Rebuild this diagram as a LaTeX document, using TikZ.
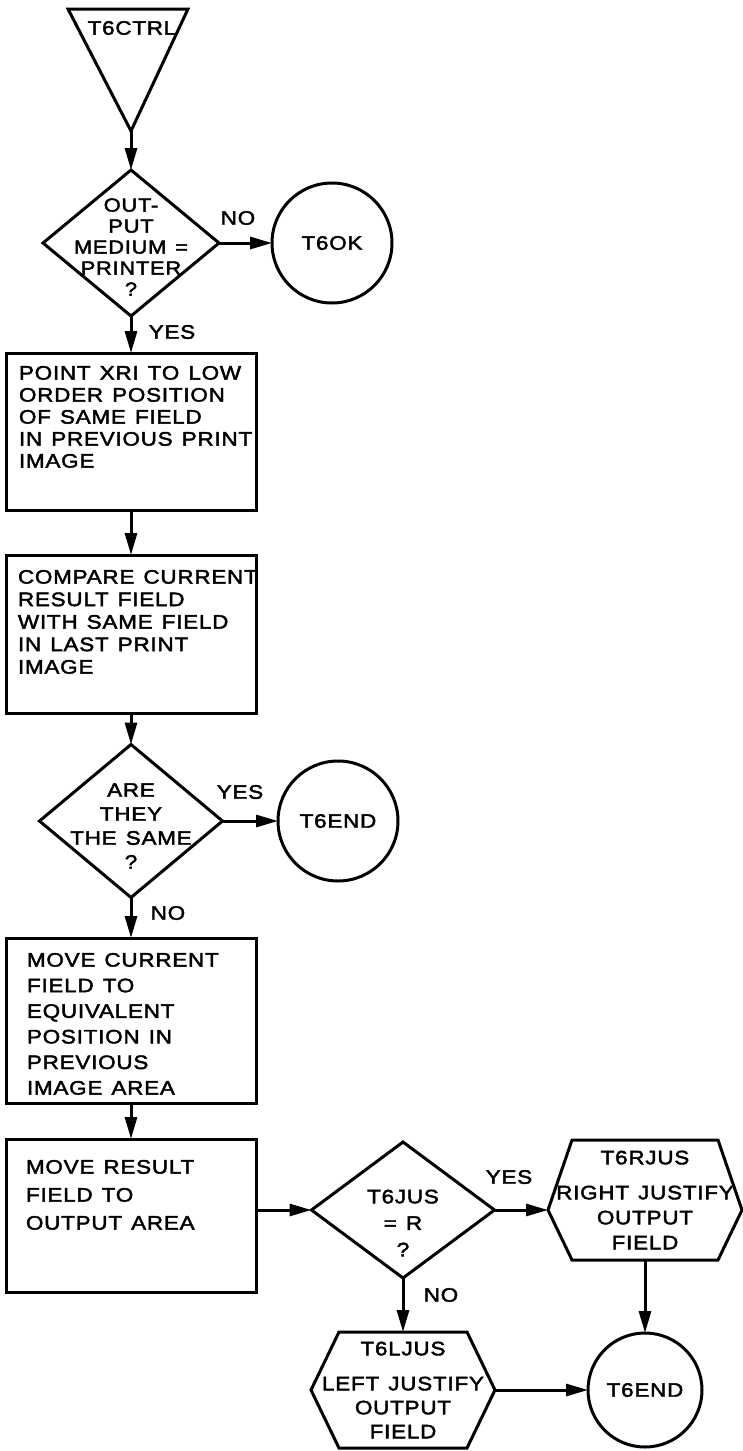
\documentclass[tikz,border=0pt]{standalone}
\usepackage{fontspec}
\newfontfamily\lettering[FakeStretch=1.15,LetterSpace=4,FakeBold=2.2,WordSpace=1.3]{Liberation Sans}
\usetikzlibrary{arrows.meta,shapes.geometric,calc}
\begin{document}
\begin{tikzpicture}[x=1pt,y=-1pt,
  line width=3pt,
  every node/.style={inner sep=0pt,outer sep=0pt},
  txt/.style={font=\lettering\fontsize{19.5}{22}\selectfont},
  flow/.style={-{Triangle[length=22pt,width=12pt]}},
  box/.style={draw,rectangle,minimum width=250pt},
  dec/.style={draw,diamond},
  circ/.style={draw,circle,txt},
  hexa/.style={txt,align=center},
]
\path[use as bounding box] (0,0) rectangle (743,1451);

% entry triangle
\coordinate (tl) at (68,9);
\coordinate (tr) at (188,9);
\coordinate (tri) at (131,131);
\draw[line join=miter] (tl) -- (tr) -- (tri) -- cycle;
\node[txt] (t6ctrl) at (132,28) {T6CTRL};

% decision 1
\node[dec, minimum width=176pt, minimum height=146pt] (d1) at (131,243) {};
\node[txt, align=center, font=\lettering\fontsize{19}{21}\selectfont] (d1t) at (131,247) {OUT-\\PUT\\MEDIUM\ =\\PRINTER\\?};
\node[circ, minimum size=120pt] (ok) at (332,243) {T6OK};
\node[txt] (no1) at (238,218) {NO};
\node[txt] (yes1) at (172,332) {YES};

% box 1
\node[box, minimum height=157pt] (b1) at (131,431.5) {};
\node[txt, align=left, anchor=north west] (b1t) at (19,366) {POINT XRI TO LOW\\ORDER POSITION\\OF SAME FIELD\\IN PREVIOUS PRINT\\IMAGE};

% box 2
\node[box, minimum height=158pt] (b2) at (131,634) {};
\node[txt, align=left, anchor=north west, font=\lettering\fontsize{19.5}{22.5}\selectfont] (b2t) at (18,570) {COMPARE CURRENT\\RESULT FIELD\\WITH SAME FIELD\\IN LAST PRINT\\IMAGE};

% decision 2
\node[dec, minimum width=183pt, minimum height=153pt] (d2) at (131,821) {};
\node[txt, align=center, font=\lettering\fontsize{19.5}{24}\selectfont] (d2t) at (131,826) {ARE\\THEY\\THE SAME\\?};
\node[circ, minimum size=120pt] (end1) at (338,821) {T6END};
\node[txt] (yes2) at (240,792) {YES};
\node[txt] (no2) at (168,913) {NO};

% box 3
\node[box, minimum height=165pt] (b3) at (131,1020.5) {};
\node[txt, align=left, anchor=north west, font=\lettering\fontsize{19.5}{25.6}\selectfont] (b3t) at (27,953) {MOVE CURRENT\\FIELD TO\\EQUIVALENT\\POSITION IN\\PREVIOUS\\IMAGE AREA};

% box 4
\node[box, minimum height=153pt] (b4) at (131,1215.5) {};
\node[txt, align=left, anchor=north west, font=\lettering\fontsize{19.5}{28}\selectfont] (b4t) at (26,1160) {MOVE RESULT\\FIELD TO\\OUTPUT AREA};

% decision 3
\node[dec, minimum width=183pt, minimum height=136pt] (d3) at (403,1210) {};
\node[txt, align=center, font=\lettering\fontsize{19.5}{26.5}\selectfont] (d3t) at (403,1223) {T6JUS\\= R\\?};
\node[txt] (yes3) at (509,1177) {YES};
\node[txt] (no3) at (441,1295) {NO};

% hexagon right
\node[hexa, font=\lettering\fontsize{19.5}{25}\selectfont, minimum width=194pt, minimum height=120pt] (hexR) at (645,1200) {T6RJUS\\[10pt]RIGHT JUSTIFY\\OUTPUT\\FIELD};
\coordinate (hRw) at (hexR.west |- d3.east);
\coordinate (hRe) at (hexR.east |- d3.east);
\draw[line join=miter] (hRw) -- ($(hexR.north west)+(24,0)$) -- ($(hexR.north east)+(-24,0)$) -- (hRe) -- ($(hexR.south east)+(-24,0)$) -- ($(hexR.south west)+(24,0)$) -- cycle;

% hexagon left
\node[hexa, font=\lettering\fontsize{19.5}{24}\selectfont, minimum width=184pt, minimum height=116pt] (hexL) at (403,1390) {T6LJUS\\[11pt]LEFT JUSTIFY\\OUTPUT\\FIELD};
\draw[line join=miter] (hexL.west) -- ($(hexL.north west)+(28,0)$) -- ($(hexL.north east)+(-28,0)$) -- (hexL.east) -- ($(hexL.south east)+(-28,0)$) -- ($(hexL.south west)+(28,0)$) -- cycle;

\node[circ, minimum size=114pt] (end2) at (645,1390) {T6END};

% connectors
\draw[flow] (tri) -- (d1.north);
\draw[flow] (d1.east) -- (ok.west);
\draw[flow] (d1.south) -- (b1.north);
\draw[flow] (b1.south) -- (b2.north);
\draw[flow] (b2.south) -- (d2.north);
\draw[flow] (d2.east) -- (end1.west);
\draw[flow] (d2.south) -- (b3.north);
\draw[flow] (b3.south) -- (b4.north);
\draw[flow] (b4.east |- d3.west) -- (d3.west);
\draw[flow] (d3.east) -- (hRw);
\draw[flow] (d3.south) -- (hexL.north);
\draw[flow] (hexR.south) -- (end2.north);
\draw[flow] (hexL.east) -- (end2.west);
\end{tikzpicture}
\end{document}
